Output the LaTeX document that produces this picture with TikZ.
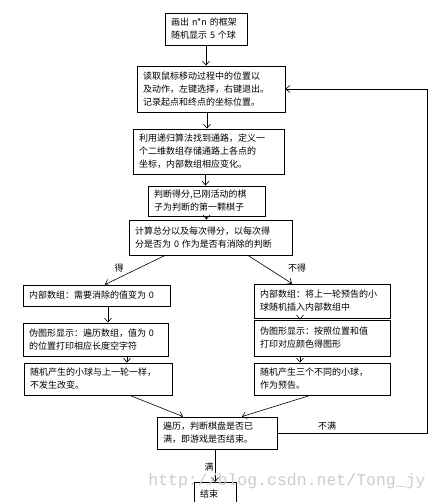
\documentclass[tikz,border=0pt]{standalone}
\usepackage{fontspec}
\setmainfont{Noto Sans CJK SC}
\newfontfamily\markfont{Liberation Mono}
\usepackage{tikz}
\usetikzlibrary{arrows.meta}
\tikzset{>={Straight Barb[length=4pt,width=7pt]}}
\tikzset{
  flowbox/.style={draw, line width=0.9pt, inner xsep=6pt, inner ysep=2pt, align=left,
    font=\fontsize{9}{13}\selectfont},
  flowline/.style={->, line width=0.6pt},
  flowlabel/.style={inner sep=1pt, font=\fontsize{9}{12}\selectfont}
}

\begin{document}
\begin{tikzpicture}[x=1pt, y=-1pt]
                    \useasboundingbox (0,0) rectangle (438,502);
                    \node[flowbox, text width=70pt, minimum height=32pt] (start) at (206,29) {画出 n*n 的框架\\随机显示 5 个球};
                    \node[flowbox, text width=136pt, minimum height=46pt] (read) at (211,89) {读取鼠标移动过程中的位置以\\及动作，左键选择，右键退出。\\记录起点和终点的坐标位置。};
                    \node[flowbox, text width=139pt, minimum height=45pt] (path) at (208.5,151.5) {利用递归算法找到通路，定义一\\个二维数组存储通路上各点的\\坐标，内部数组相应变化。};
                    \node[flowbox, text width=105pt, minimum height=30pt] (score) at (206.5,201) {判断得分,已刚活动的棋\\子为判断的第一颗棋子};
                    \node[flowbox, text width=151pt, minimum height=35pt] (total) at (210.5,237.5) {计算总分以及每次得分，以每次得\\分是否为 0 作为是否有消除的判断};
                    \node[flowbox, text width=135pt, minimum height=21pt] (inleft) at (96.5,295.5) {内部数组：需要消除的值变为 0};
                    \node[flowbox, text width=133pt, minimum height=33pt] (showleft) at (95.5,339.5) {伪图形显示：遍历数组，值为 0\\的位置打印相应长度空字符};
                    \node[flowbox, text width=136pt, minimum height=32pt] (ballleft) at (98,379) {随机产生的小球与上一轮一样，\\不发生改变。};
                    \node[flowbox, text width=124pt, minimum height=34pt] (inright) at (322,301) {内部数组：将上一轮预告的小\\球随机插入内部数组中};
                    \node[flowbox, text width=124pt, minimum height=36pt] (showright) at (322,338) {伪图形显示：按照位置和值\\打印对应颜色得图形};
                    \node[flowbox, text width=124pt, minimum height=32pt] (ballright) at (322,379) {随机产生三个不同的小球，\\作为预告。};
                    \node[flowbox, text width=108pt, minimum height=32pt] (full) at (217,433) {遍历，判断棋盘是否已\\满，即游戏是否结束。};
                    \node[flowbox, text width=30pt, minimum height=24pt, anchor=north] (end) at (215,482) {结束};
                    \draw[flowline] (start.south) -- (start.south |- read.north);
                    \draw[flowline] ([xshift=-4pt]read.south) -- ([xshift=-4pt]read.south |- path.north);
                    \draw[flowline] ([xshift=-3pt]path.south) -- ([xshift=-3pt]path.south |- score.north);
                    \draw[flowline] (score.south) -- (score.south |- total.north);
                    \draw[flowline] ([xshift=-45.5pt]total.south) -- ([xshift=8.5pt]inleft.north);
                    \draw[flowline] ([xshift=37.5pt]total.south) -- ([xshift=-30pt]inright.north);
                    \node[flowlabel] (yes) at (119,268) {得};
                    \node[flowlabel] (no) at (297,268) {不得};
                    \draw[flowline] ([xshift=11.5pt]inleft.south) -- ([xshift=11.5pt]inleft.south |- showleft.north);
                    \draw[flowline] ([xshift=31.5pt]showleft.south) -- ([xshift=31.5pt]showleft.south |- ballleft.north);
                    \draw[flowline] ([xshift=-22pt]inright.south) -- ([xshift=-22pt]inright.south |- showright.north);
                    \draw[flowline] ([xshift=-22pt]showright.south) -- ([xshift=-22pt]showright.south |- ballright.north);
                    \draw[flowline] ([xshift=32pt]ballleft.south) -- ([xshift=-34pt]full.north);
                    \draw[flowline] ([xshift=-12pt]ballright.south) -- ([xshift=25pt]full.north);
                    \draw[flowline] ([xshift=-2pt]full.south) -- ([xshift=-2pt]full.south |- end.north) node[flowlabel, pos=0.55, left] (done) {满};
                    \coordinate (loopdown) at (427,431);
                    \coordinate (loopup) at (427,89);
                    \draw[flowline] (full.east) -- (full.east -| loopdown) -- (loopup) -- (read.east);
                    \node[flowlabel, above] (notdone) at (327,431) {不满};
                    \node[text=gray!40, font=\markfont\fontsize{16.5}{16.5}\selectfont] (mark) at (287,481) {http://blog.csdn.net/Tong\_jy};
                    \end{tikzpicture}
\end{document}
